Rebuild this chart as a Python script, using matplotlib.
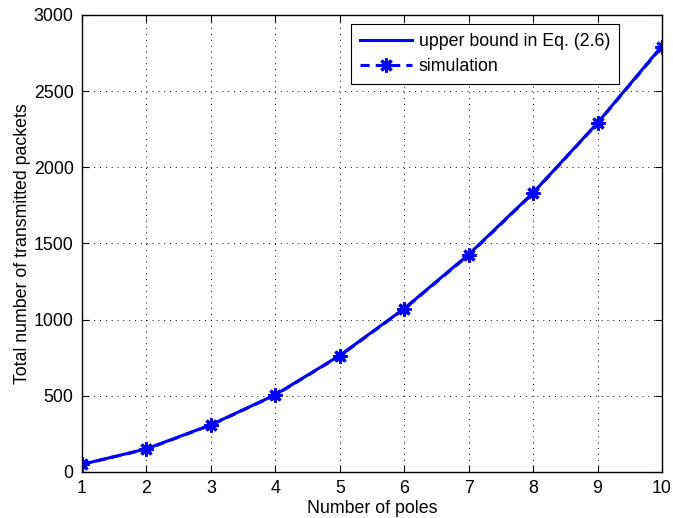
import matplotlib
matplotlib.use("Agg")
import matplotlib.pyplot as plt

poles = [1, 2, 3, 4, 5, 6, 7, 8, 9, 10]
upper_bound = [50, 152, 310, 507, 765, 1073, 1428, 1833, 2292, 2797]
simulation = [50, 150, 308, 505, 762, 1070, 1424, 1830, 2289, 2792]
xticks = [1, 2, 3, 4, 5, 6, 7, 8, 9, 10]
yticks = [0, 500, 1000, 1500, 2000, 2500, 3000]

FS = 12.8
plt.rcParams['font.family'] = ['Liberation Sans', 'DejaVu Sans']
plt.rcParams['font.size'] = FS

fig = plt.figure(figsize=(6.73, 5.18), dpi=100)
ax = fig.add_axes([82/673, 46/518, 580/673, 457/518])

ax.plot(poles, upper_bound, color='#0000ff', linewidth=2.2, linestyle='-',
        label='upper bound in Eq. (2.6)')
ax.plot(poles, simulation, color='#0000ff', linewidth=2.2, linestyle=(0, (3, 2)),
        marker=(8, 2, 0), markersize=10, markeredgewidth=2.2, label='simulation')

ax.set_xlim(1, 10)
ax.set_ylim(0, 3000)
ax.set_xticks(xticks)
ax.set_yticks(yticks)
ax.tick_params(direction='in', top=True, right=True, length=5, width=0.8,
               colors='black', labelsize=FS, pad=6)
ax.grid(True, color='black', linestyle=(0, (1, 5)), linewidth=0.7)
for s in ax.spines.values():
    s.set_linewidth(1.0)
    s.set_color('black')

ax.set_xlabel('Number of poles', labelpad=2)
ax.set_ylabel('Total number of transmitted packets', labelpad=2)

leg = ax.legend(loc='upper right', fancybox=False, framealpha=1, edgecolor='black',
                handlelength=2.9, borderpad=0.5, labelspacing=0.45, handletextpad=0.4,
                borderaxespad=0, fontsize=FS)
leg.get_frame().set_linewidth(0.8)
leg.set_bbox_to_anchor((619/673, (518-24)/518), transform=fig.transFigure)

fig.savefig('out.png', dpi=100)
